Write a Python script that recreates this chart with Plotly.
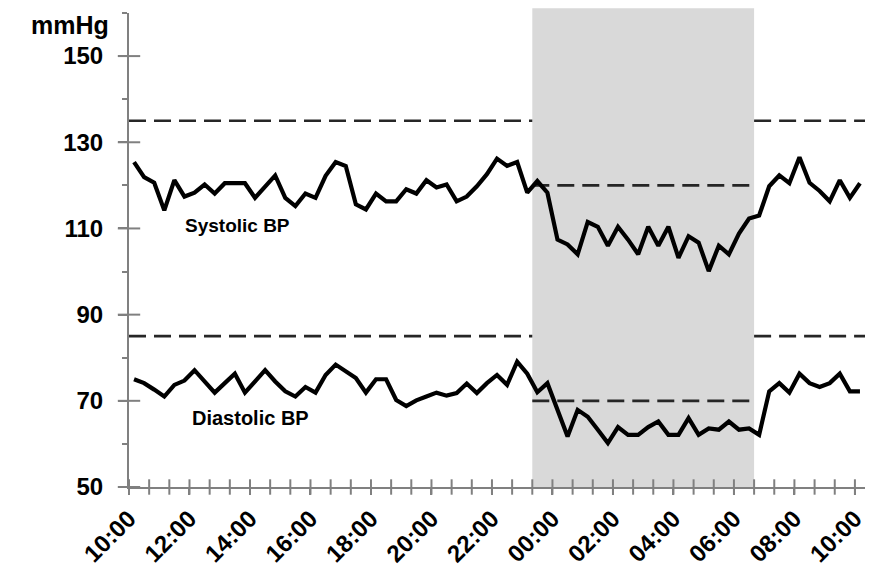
import plotly.graph_objects as go

# 73 readings, every 20 minutes from 10:00 to 10:00 next day (category index 0..72)
times = [f"{(10 + (k * 20) // 60) % 24:02d}:{(k * 20) % 60:02d}" for k in range(73)]
idx = list(range(len(times)))

systolic = [125.4, 121.9, 120.6, 114.2, 121.2, 117.4, 118.3, 120.2, 118.1, 120.5,
            120.5, 120.5, 117.1, 119.8, 122.3, 117.1, 115.2, 118.1, 117.1, 122.2,
            125.4, 124.5, 115.6, 114.4, 118.1, 116.3, 116.3, 119.1, 118.1, 121.2,
            119.5, 120.2, 116.3, 117.4, 119.8, 122.6, 126.2, 124.5, 125.4, 118.3,
            121.0, 118.3, 107.4, 106.3, 104.0, 111.5, 110.4, 106.0, 110.4, 107.4,
            104.0, 110.4, 106.0, 110.4, 103.2, 108.2, 106.7, 100.1, 106.0, 104.0,
            108.8, 112.3, 113.0, 119.8, 122.3, 120.5, 126.5, 120.6, 118.7, 116.3,
            121.2, 117.1, 120.5]

diastolic = [75.0, 74.1, 72.6, 71.0, 73.7, 74.7, 77.1, 74.5, 71.9, 74.1,
             76.3, 71.9, 74.5, 77.1, 74.5, 72.2, 71.0, 73.2, 71.9, 76.0,
             78.4, 76.8, 75.3, 71.9, 75.0, 75.0, 70.2, 68.8, 70.1, 71.0,
             71.9, 71.2, 71.8, 74.0, 71.8, 74.1, 76.0, 73.7, 79.1, 76.3,
             72.0, 74.1, 68.0, 61.7, 67.9, 66.3, 63.3, 60.2, 63.9, 62.1,
             62.1, 63.9, 65.2, 62.1, 62.1, 66.0, 62.1, 63.6, 63.3, 65.2,
             63.3, 63.6, 62.1, 72.2, 74.1, 71.9, 76.3, 74.1, 73.2, 74.1,
             76.3, 72.2, 72.2]

# thresholds (mmHg)
day_sys_limit, day_dia_limit = 135, 85
night_sys_limit, night_dia_limit = 120, 70

# night period: readings from 23:20 up to 06:40
night_start = times.index("23:20")
night_end = times.index("06:40", 30)

tick_labels = ["10:00", "12:00", "14:00", "16:00", "18:00", "20:00", "22:00",
               "00:00", "02:00", "04:00", "06:00", "08:00", "10:00"]
y_major = [50, 70, 90, 110, 130, 150]

axis_col = "#808080"
FONT = "Liberation Sans, Arial, sans-serif"

lo = -0.5
hi = len(times) - 0.5
ns = night_start - 0.5
ne = night_end - 0.5

fig = go.Figure()

dash_style = dict(color="#262626", width=2.7, dash="17px,8px")
for xs, val in [([lo, ns], day_sys_limit), ([ne, hi], day_sys_limit),
                ([lo, ns], day_dia_limit), ([ne, hi], day_dia_limit),
                ([ns, ne], night_sys_limit), ([ns, ne], night_dia_limit)]:
    fig.add_trace(go.Scatter(x=xs, y=[val, val], mode="lines", line=dash_style,
                             hoverinfo="skip", showlegend=False))

fig.add_trace(go.Scatter(x=idx, y=systolic, mode="lines", text=times,
                         line=dict(color="black", width=4.2), name="Systolic BP",
                         showlegend=False))
fig.add_trace(go.Scatter(x=idx, y=diastolic, mode="lines", text=times,
                         line=dict(color="black", width=4.2), name="Diastolic BP",
                         showlegend=False))

# crossing tick marks on the x axis (every 40 min) and y axis (major)
x_tick_pos = [k - 0.5 for k in range(0, len(times), 2)]
fig.add_trace(go.Scatter(x=x_tick_pos, y=[50] * len(x_tick_pos), mode="markers",
                         marker=dict(symbol="line-ns", size=11,
                                     line=dict(color=axis_col, width=2)),
                         cliponaxis=False, hoverinfo="skip", showlegend=False))
fig.add_trace(go.Scatter(x=[lo] * len(y_major), y=y_major, mode="markers",
                         marker=dict(symbol="line-ew", size=16,
                                     line=dict(color=axis_col, width=2)),
                         cliponaxis=False, hoverinfo="skip", showlegend=False))

fig.add_shape(type="rect", xref="x", yref="paper", x0=ns, x1=ne, y0=0, y1=1.01,
              fillcolor="#d9d9d9", line=dict(width=0), layer="below")

fig.add_annotation(x=10.3, y=110.7, xref="x", yref="y", text="Systolic BP",
                   showarrow=False, font=dict(family=FONT, size=19, color="black", weight=700))
fig.add_annotation(x=11.6, y=66.0, xref="x", yref="y", text="Diastolic BP",
                   showarrow=False, font=dict(family=FONT, size=20, color="black", weight=700))
fig.add_annotation(x=-0.024, y=0.975, xref="paper", yref="paper", text="mmHg",
                   xanchor="right", yanchor="middle", showarrow=False,
                   font=dict(family=FONT, size=25, color="black", weight=700))

# the page body adds an 8 px offset, so the figure is 8 px smaller each way
fig.update_layout(
    width=874, height=569,
    margin=dict(l=121, r=17, t=5, b=90),
    paper_bgcolor="white", plot_bgcolor="white",
    xaxis=dict(range=[lo, hi], showgrid=False, zeroline=False, showline=True,
               automargin=False,
               linecolor=axis_col, linewidth=2,
               tickmode="array", tickvals=[lo + 6 * k for k in range(len(tick_labels))],
               ticktext=tick_labels, tickangle=-45,
               ticks="outside", ticklen=6, tickwidth=2, tickcolor=axis_col,
               tickfont=dict(family=FONT, size=24, color="black", weight=700)),
    yaxis=dict(range=[50, 160], showgrid=False, zeroline=False, showline=True,
               automargin=False,
               linecolor=axis_col, linewidth=2,
               tickmode="array", tickvals=y_major,
               ticks="outside", ticklen=9, tickwidth=2, tickcolor=axis_col,
               ticklabelstandoff=10,
               minor=dict(tickmode="array", tickvals=[60, 80, 100, 120, 140, 160],
                          ticks="outside", ticklen=5, tickwidth=2, tickcolor=axis_col),
               tickfont=dict(family=FONT, size=24, color="black", weight=700)),
)

fig.write_html("out.html")
